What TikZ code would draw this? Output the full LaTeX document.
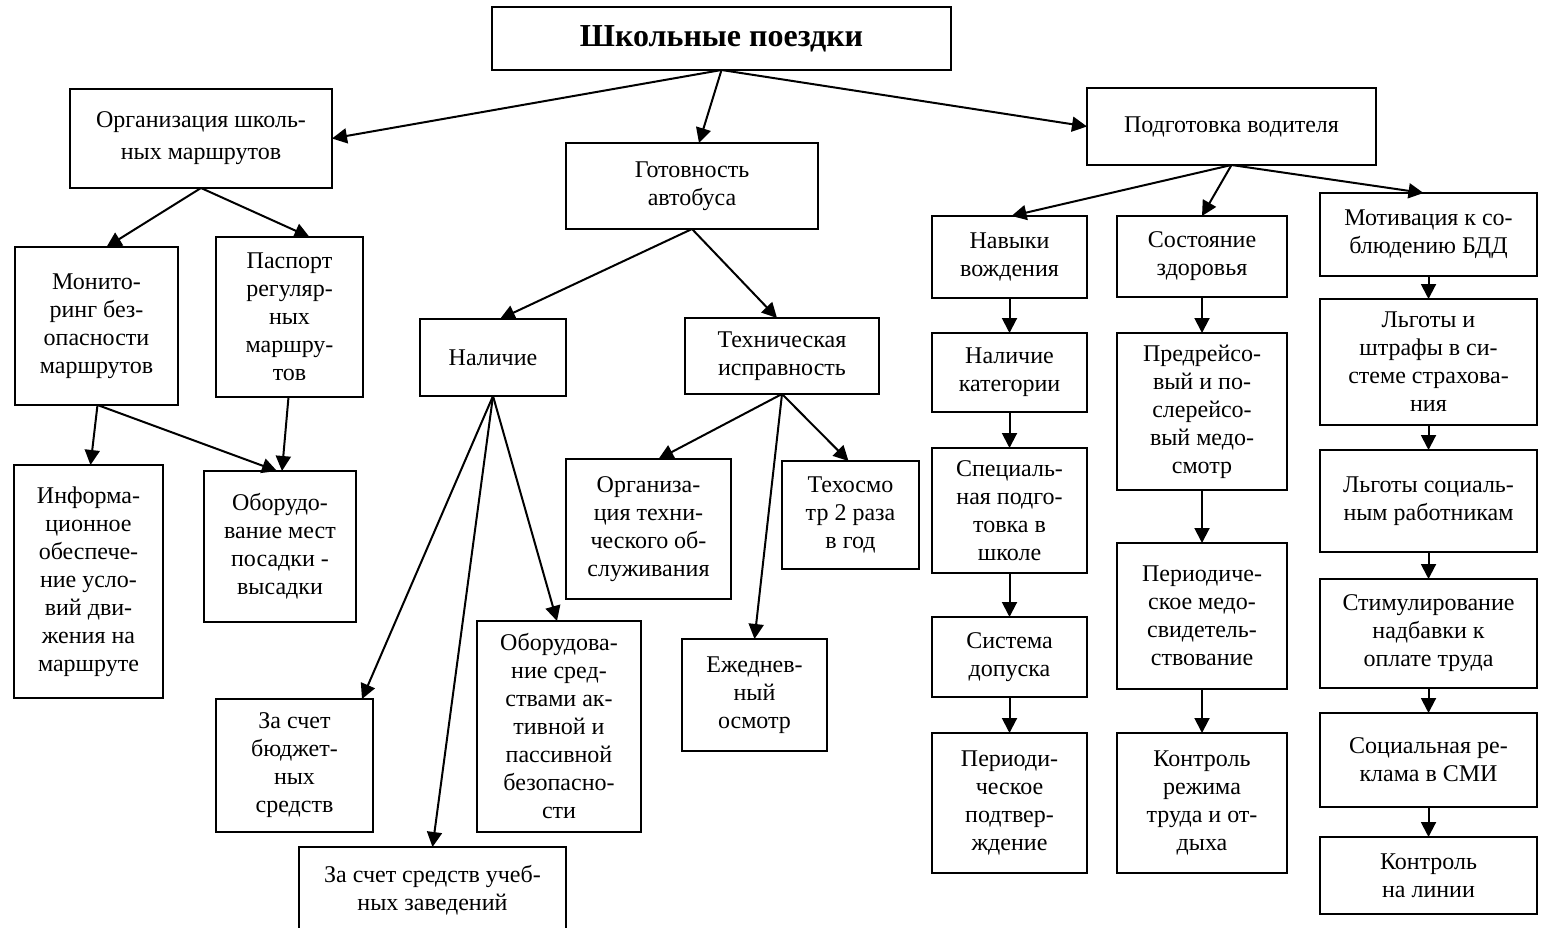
\documentclass[tikz,border=0pt]{standalone}
\usepackage{fontspec}
\setmainfont{Liberation Serif}
\usetikzlibrary{arrows.meta}
\tikzset{
  box/.style={draw=black, line width=2pt, fill=white, inner sep=0pt, outer sep=0pt,
    align=center, font=\fontsize{24}{28}\selectfont},
  conn/.style={line width=2pt, -{Triangle[length=15pt,width=15pt]}}
}
\newcommand\mybox[7][]{\node[box, minimum width={#5-#3}, minimum height={#6-#4}, #1] (#2) at ({(#3+#5)/2},{(#4+#6)/2}) {#7};}
\begin{document}
\begin{tikzpicture}[x=1pt,y=-1pt]
\useasboundingbox (0,0) rectangle (1546,928);
\begin{scope}
\clip (0,0) rectangle (1546,928);
% level 0
\mybox[font=\fontsize{32}{36}\selectfont\bfseries]{root}{492}{7}{951}{70}{Школьные поездки}
% level 1
\mybox[font=\fontsize{24}{32}\selectfont]{org}{70}{89}{332}{188}{Организация школь-\\ных маршрутов}
\mybox{gotov}{566}{143}{818}{229}{Готовность\\автобуса}
\mybox{podg}{1087}{88}{1376}{165}{Подготовка водителя}
% left branch
\mybox{monit}{15}{247}{178}{405}{Монито-\\ринг без-\\опасности\\маршрутов}
\mybox{pasp}{216}{237}{363}{397}{Паспорт\\регуляр-\\ных\\маршру-\\тов}
\mybox{info}{14}{465}{163}{698}{Информа-\\ционное\\обеспече-\\ние усло-\\вий дви-\\жения на\\маршруте}
\mybox{obmest}{204}{471}{356}{622}{Оборудо-\\вание мест\\посадки -\\высадки}
% middle branch
\mybox{nal}{420}{319}{566}{396}{Наличие}
\mybox{tech}{685}{318}{879}{394}{Техническая\\исправность}
\mybox{orgtech}{566}{459}{731}{599}{Организа-\\ция техни-\\ческого об-\\служивания}
\mybox{texosm}{782}{461}{919}{569}{Техосмо\\тр 2 раза\\в год}
\mybox{ezhed}{682}{639}{827}{751}{Ежеднев-\\ный\\осмотр}
\mybox{obsred}{477}{621}{641}{832}{Оборудова-\\ние сред-\\ствами ак-\\тивной и\\пассивной\\безопасно-\\сти}
\mybox{budget}{216}{699}{373}{832}{За счет\\бюджет-\\ных\\средств}
\mybox{ucheb}{299}{847}{566}{933}{За счет средств учеб-\\ных заведений}
% right branch
\mybox{navyki}{932}{216}{1087}{298}{Навыки\\вождения}
\mybox{sost}{1117}{216}{1287}{297}{Состояние\\здоровья}
\mybox{motiv}{1320}{193}{1537}{276}{Мотивация к со-\\блюдению БДД}
\mybox{nalkat}{932}{333}{1087}{412}{Наличие\\категории}
\mybox{spec}{932}{448}{1087}{573}{Специаль-\\ная подго-\\товка в\\школе}
\mybox{sistema}{932}{617}{1087}{697}{Система\\допуска}
\mybox{perpodtv}{932}{733}{1087}{873}{Периоди-\\ческое\\подтвер-\\ждение}
\mybox{predr}{1117}{333}{1287}{490}{Предрейсо-\\вый и по-\\слерейсо-\\вый медо-\\смотр}
\mybox{permed}{1117}{543}{1287}{689}{Периодиче-\\ское медо-\\свидетель-\\ствование}
\mybox{kontrrezh}{1117}{733}{1287}{873}{Контроль\\режима\\труда и от-\\дыха}
\mybox{lgoty}{1320}{299}{1537}{425}{Льготы и\\штрафы в си-\\стеме страхова-\\ния}
\mybox{lgsoc}{1320}{450}{1537}{552}{Льготы социаль-\\ным работникам}
\mybox{stim}{1320}{579}{1537}{688}{Стимулирование\\надбавки к\\оплате труда}
\mybox{socrek}{1320}{713}{1537}{807}{Социальная ре-\\клама в СМИ}
\mybox{kontrlin}{1320}{837}{1537}{914}{Контроль\\на линии}
% connectors
\draw[conn] (root.south) -- (org.east);
\draw[conn] (root.south) -- ([xshift=7pt]gotov.north);
\draw[conn] (root.south) -- (podg.west);
\draw[conn] (org.south) -- ([xshift=10pt]monit.north);
\draw[conn] (org.south) -- ([xshift=20pt]pasp.north);
\draw[conn] ([xshift=1pt]monit.south) -- ([xshift=2pt]info.north);
\draw[conn] ([xshift=1pt]monit.south) -- ([xshift=-3pt]obmest.north);
\draw[conn] ([xshift=-1pt]pasp.south) -- ([xshift=2pt]obmest.north);
\draw[conn] (gotov.south) -- ([xshift=7pt]nal.north);
\draw[conn] (gotov.south) -- ([xshift=-5pt]tech.north);
\draw[conn] (nal.south) -- ([xshift=-11pt]budget.north east);
\draw[conn] (nal.south) -- (ucheb.north);
\draw[conn] (nal.south) -- ([xshift=-2pt]obsred.north);
\draw[conn] (tech.south) -- ([xshift=10pt]orgtech.north);
\draw[conn] (tech.south) -- (ezhed.north);
\draw[conn] (tech.south) -- ([xshift=-2pt]texosm.north);
\draw[conn] (podg.south) -- ([xshift=2pt]navyki.north);
\draw[conn] (podg.south) -- (sost.north);
\draw[conn] (podg.south) -- ([xshift=-5pt]motiv.north);
\draw[conn] (navyki.south) -- (nalkat.north);
\draw[conn] (nalkat.south) -- (spec.north);
\draw[conn] (spec.south) -- (sistema.north);
\draw[conn] (sistema.south) -- (perpodtv.north);
\draw[conn] (sost.south) -- (predr.north);
\draw[conn] (predr.south) -- (permed.north);
\draw[conn] (permed.south) -- (kontrrezh.north);
\draw[conn] (motiv.south) -- (lgoty.north);
\draw[conn] (lgoty.south) -- (lgsoc.north);
\draw[conn] (lgsoc.south) -- (stim.north);
\draw[conn] (stim.south) -- (socrek.north);
\draw[conn] (socrek.south) -- (kontrlin.north);
\end{scope}
\end{tikzpicture}
\end{document}
